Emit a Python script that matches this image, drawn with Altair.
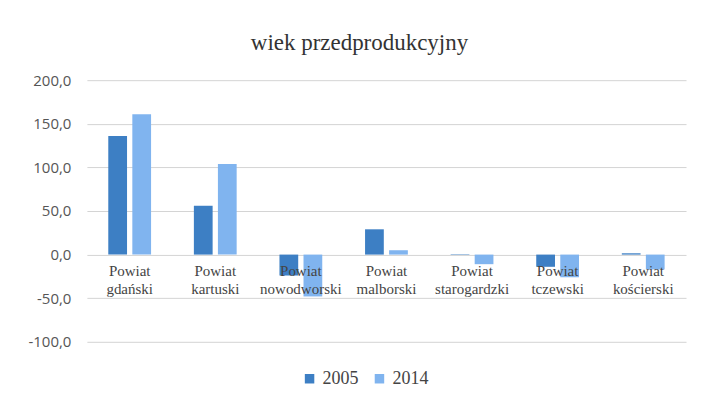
import altair as alt
import pandas as pd

categories = ["Powiat gdański", "Powiat kartuski", "Powiat nowodworski", "Powiat malborski",
              "Powiat starogardzki", "Powiat tczewski", "Powiat kościerski"]
label_lines = [["Powiat", "gdański"], ["Powiat", "kartuski"], ["Powiat", "nowodworski"],
               ["Powiat", "malborski"], ["Powiat", "starogardzki"], ["Powiat", "tczewski"],
               ["Powiat", "kościerski"]]
years = ["2005", "2014"]
values_2005 = [136.0, 56.0, -24.0, 29.0, 0.5, -14.0, 1.5]
values_2014 = [161.0, 104.0, -48.0, 5.0, -11.0, -26.0, -17.0]
y_ticks = [-100, -50, 0, 50, 100, 150, 200]

rows = []
for c, a, b in zip(categories, values_2005, values_2014):
    rows.append({"cat": c, "rok": "2005", "v": a})
    rows.append({"cat": c, "rok": "2014", "v": b})
df = pd.DataFrame(rows)
lab = pd.DataFrame({"cat": categories, "lab": label_lines})

xscale = alt.Scale(domain=categories, paddingInner=0.5, paddingOuter=0.25)
yscale = alt.Scale(domain=[-100, 200], nice=False)

bars = alt.Chart(df).mark_bar().encode(
    x=alt.X("cat:N", scale=xscale, sort=categories, axis=None),
    xOffset=alt.XOffset("rok:N", scale=alt.Scale(paddingInner=0.22)),
    y=alt.Y("v:Q", scale=yscale,
            axis=alt.Axis(values=y_ticks, title=None, domain=False, ticks=False,
                          labelExpr="replace(replace(format(datum.value, '.1f'), '.', ','), '\u2212', '-')",
                          labelFont="Open Sans", labelFontSize=15, labelColor="#555555",
                          labelPadding=16, grid=True, gridColor="#d4d4d4")),
    color=alt.Color("rok:N", scale=alt.Scale(domain=years, range=["#3d7fc4", "#80b4ef"]),
                    legend=alt.Legend(title=None, orient="none", direction="horizontal",
                                      legendX=214, legendY=290, symbolType="square",
                                      symbolSize=90, labelFont="Liberation Serif",
                                      labelFontSize=18, labelColor="#444444",
                                      columnPadding=12, symbolStrokeWidth=0)),
)

labels = alt.Chart(lab).mark_text(
    baseline="top", align="center", dy=9, lineHeight=18,
    font="Liberation Serif", fontSize=15, color="#444444"
).encode(
    x=alt.X("cat:N", scale=xscale, sort=categories, axis=None),
    y=alt.datum(0, scale=yscale),
    text="lab",
)

chart = alt.layer(bars, labels).properties(
    width=600, height=262,
    padding={"left": 79, "top": 72, "right": 10, "bottom": 60},
    autosize=alt.AutoSizeParams(type="none"),
    title=alt.Title("wiek przedprodukcyjny", font="Liberation Serif", fontSize=23,
                    fontWeight="normal", color="#333333", offset=18, dx=-27),
).configure(background="white", view=alt.ViewConfig(stroke=None))

chart.save("out.html", embed_options={"renderer": "svg", "actions": False})
